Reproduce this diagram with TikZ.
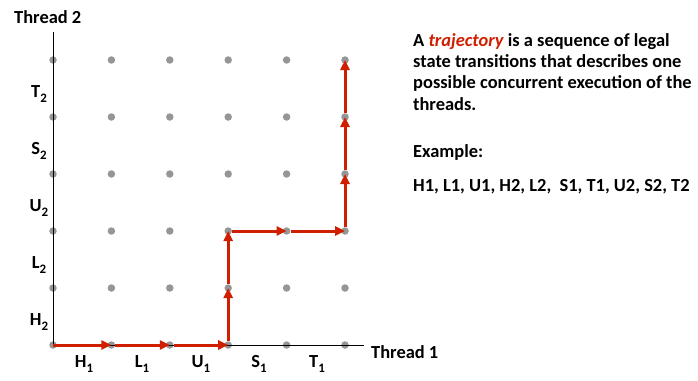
\documentclass[tikz,border=0pt]{standalone}
\usepackage{fontspec}
\setmainfont{Carlito}
\usepackage{xcolor}
\usetikzlibrary{arrows.meta, positioning}
\definecolor{trajred}{RGB}{208,30,0}
\definecolor{dotgray}{RGB}{150,150,150}
\newcommand{\sublbl}[2]{#1\raisebox{-0.32em}{\fontsize{13}{13}\selectfont #2}}

\begin{document}
\begin{tikzpicture}[x=1bp, y=1bp, font=\bfseries\fontsize{18.5}{21.3}\selectfont]
\tikzstyle{dot} = [circle, fill=dotgray, inner sep=0pt, minimum size=7.5bp]
\tikzstyle{axis} = [draw, black, line width=1bp]
\tikzstyle{move} = [draw, trajred, line width=3bp, -{Triangle[length=10bp, width=9bp]}]
\tikzstyle{lbl} = [inner sep=0pt]

\useasboundingbox (0,0) rectangle (698,380);

% grid of states
\foreach \i in {0,...,5}
  \foreach \j in {0,...,5}
    \node (p\i\j) [dot] at ({53+58.4*\i},{35+57*\j}) {};

% axes
\coordinate (ytop) at (53,348);
\coordinate (xend) at (364,35);
\draw [axis] (p00.center) -- (ytop);
\draw [axis] (p00.center) -- (xend);
\node (thr2) [lbl, anchor=base west] at (14,357) {Thread 2};
\node (thr1) [lbl, anchor=base west] at (371,22) {Thread 1};

% instruction labels
\node (h2) [lbl] at (39,58) {\sublbl{H}{2}};
\node (l2) [lbl] at (39,115) {\sublbl{L}{2}};
\node (u2) [lbl] at (39,172) {\sublbl{U}{2}};
\node (s2) [lbl] at (39,229) {\sublbl{S}{2}};
\node (t2) [lbl] at (39,286) {\sublbl{T}{2}};
\node (h1) [lbl] at (84,16) {\sublbl{H}{1}};
\node (l1) [lbl] at (142,16) {\sublbl{L}{1}};
\node (u1) [lbl] at (201,16) {\sublbl{U}{1}};
\node (s1) [lbl] at (259,16) {\sublbl{S}{1}};
\node (t1) [lbl] at (317,16) {\sublbl{T}{1}};

% trajectory
\draw [move] (p00.center) -- (p10.center);
\draw [move] (p10) -- (p20.center);
\draw [move] (p20) -- (p30.center);
\draw [move] (p30) -- (p31.center);
\draw [move] (p31) -- (p32.center);
\draw [move] (p32) -- (p42.center);
\draw [move] (p42) -- (p52.center);
\draw [move] (p52) -- (p53.center);
\draw [move] (p53) -- (p54.center);
\draw [move] (p54) -- (p55.center);

% explanation
\node (desc) [lbl, anchor=base west, align=left] at (413,270) {A {\color{trajred}\itshape trajectory} is a sequence of legal\\state transitions that describes one\\possible concurrent execution of the\\threads.};
\node (exhead) [lbl, anchor=base west] at (413,223) {Example:};
\node (exseq) [lbl, anchor=base west] at (413,189) {H1, L1, U1, H2, L2,\ \ S1, T1, U2, S2, T2};
\end{tikzpicture}
\end{document}
